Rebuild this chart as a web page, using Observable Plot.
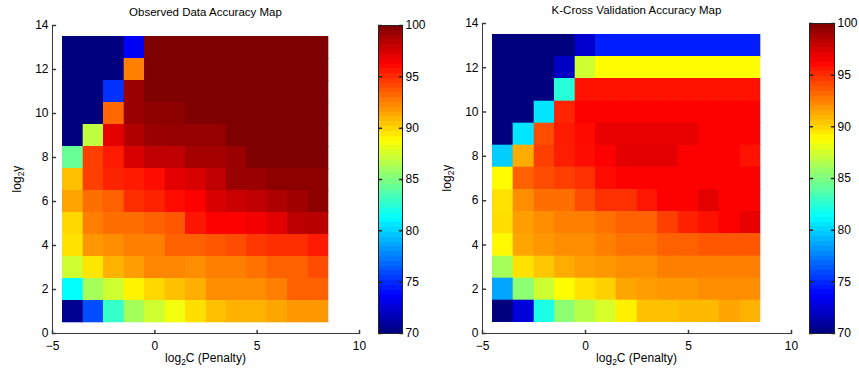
<!DOCTYPE html>
<html><head><meta charset="utf-8">
<script src="https://cdn.jsdelivr.net/npm/d3@7"></script>
<script src="https://cdn.jsdelivr.net/npm/@observablehq/plot@0.6"></script>
<style>
body{margin:0;background:#fff;font-family:"Liberation Sans",Arial,Helvetica,sans-serif;}
#wrap{position:relative;width:859px;height:374px;overflow:hidden;}
.panel{position:absolute;top:0;width:430px;height:374px;}
.title{position:absolute;font-size:11.5px;color:#000;white-space:nowrap;transform:translate(-50%,-50%);}
.panel svg{position:absolute;top:0;}
</style></head><body><div id="wrap"></div>
<script>
// log2 C (penalty) columns, log2 gamma rows (top to bottom)
const penaltyC = [-4,-3,-2,-1,0,1,2,3,4,5,6,7,8];
const gammaLog = [13,12,11,10,9,8,7,6,5,4,3,2,1];

// Observed data accuracy (%), rows follow gammaLog, columns follow penaltyC
const observed = [
  [70,70,70,73.5,100,100,100,100,100,100,100,100,100],
  [70,70,70,92.5,100,100,100,100,100,100,100,100,100],
  [70,70,75.2,99.2,100,100,100,100,100,100,100,100,100],
  [70,70,93.2,99.2,99.6,99.6,100,100,100,100,100,100,100],
  [70,86.9,97,98.5,99.2,99.3,99.3,99.3,100,100,100,100,100],
  [84.3,94.4,95.5,97.4,98.1,98.1,98.9,98.9,99.2,100,100,100,100],
  [90.6,94.4,95.2,95.5,95.9,97,97.4,98.1,99.2,99.2,99.6,99.6,99.6],
  [91.4,93,93.4,94.9,95.2,95.9,96.3,97.4,97.8,98.1,98.6,99,99.6],
  [89.9,92.5,93,93,93.4,93.7,95.6,96.3,96.3,96.6,97.1,98.2,98.3],
  [89.6,91.8,92.1,92.5,92.5,93.4,93.4,93.7,94,94.6,94.9,94.9,95.5],
  [87.3,89.5,91,91.6,92.3,92.3,92.1,92.5,92.5,92.9,93.4,93.4,94],
  [81.3,86.1,87.3,89.1,89.9,90.6,91.1,92.1,92.1,92.1,92.5,93.4,93.4],
  [70.5,76,82.8,86.1,87.3,88.4,89.7,90.6,91,91,91.4,91.8,91.8]
];

// K-cross validation accuracy (%)
const kcross = [
  [70,70,70,70,72.3,74.6,74.6,74.6,74.6,74.6,74.6,74.6,74.6],
  [70,70,70,72,87.3,88.8,88.8,88.8,88.8,88.8,88.8,88.8,88.8],
  [70,70,70,82.4,95.7,95.7,95.7,95.7,95.7,95.7,95.7,95.7,95.7],
  [70,70,80.5,95.2,96.3,96.3,96.3,96.3,96.3,96.3,96.3,96.3,96.3],
  [70,80.5,94,95.5,96,96.9,96.9,96.9,96.9,96.9,96.3,96.3,96.3],
  [79.8,91.2,94.4,95.4,95.9,96.3,97,97,97,96.3,96.3,96.3,95.7],
  [88.8,93.4,94,94.4,94.8,95.9,96.3,96.3,96.3,96.3,96.3,96.3,96.3],
  [89.6,92.1,93,93,94,94.8,94.8,95.6,96.3,96.3,97,96.3,96.3],
  [89.7,91.6,92.1,92.5,92.5,92.9,93.4,93.4,94.4,95.3,95.8,96.3,96.9],
  [88.9,91.4,91.8,92.1,92.1,92.5,92.9,92.9,93.4,93.4,93.7,93.7,93.7],
  [86.1,89.6,90.4,91.2,91.6,91.8,92.1,92.1,92.5,92.5,92.5,92.5,92.5],
  [78.6,85.4,87.3,88.8,89.6,90.1,91.4,91.6,91.8,91.8,92.1,92.1,92.1],
  [70,72.6,82,85.4,86.6,87.6,89.2,90.6,90.6,90.8,90.8,91.4,91]
];

const titles = ["Observed Data Accuracy Map", "K-Cross Validation Accuracy Map"];
const xTicks = [-5,0,5,10];
const yTicks = [0,2,4,6,8,10,12,14];
const cbTicks = [70,75,80,85,90,95,100];
const xLabel = ["log","2","C (Penalty)"];
const yLabel = ["log","2","\u03b3"];

// jet colormap
const jetDomain = [70,73.75,81.25,88.75,96.25,100];
const jetRange = ["#00007f","#0000ff","#00ffff","#ffff00","#ff0000","#7f0000"];
const colorScale = {type:"linear", domain: jetDomain, range: jetRange, interpolate:"rgb", clamp:true};

const FONT = '"Liberation Sans", Arial, Helvetica, sans-serif';
const FS = 12;
const AX = "#3a3a3a";
const tickShape = {draw(ctx, l){ ctx.moveTo(0,0); ctx.lineTo(0,-l); }};

const layouts = [
  {x0:0, left:52, right:359, top:25, bottom:333, cbLeft:378, cbRight:402, titleY:12},
  {x0:430, left:52, right:361, top:23, bottom:333, cbLeft:379, cbRight:404, titleY:10}
];

function addLabel(svg, parts, x, y, rotate){
  const t = d3.select(svg).append("text")
    .attr("transform", `translate(${x},${y})` + (rotate ? " rotate(-90)" : ""))
    .attr("text-anchor","middle").attr("font-size",FS).attr("font-family",FONT).attr("fill","#000");
  t.append("tspan").text(parts[0]);
  t.append("tspan").text(parts[1]).attr("font-size",8.5).attr("dy",3);
  t.append("tspan").text(parts[2]).attr("dy",-3);
}

function panel(values, title, L){
  const data = [];
  gammaLog.forEach((g,i) => penaltyC.forEach((c,j) => data.push({C:c, g, v: values[i][j]})));
  const W = L.right + 14, H = 374;
  const div = document.createElement("div");
  div.className = "panel"; div.style.left = L.x0 + "px";

  const heat = Plot.plot({
    width: W, height: H,
    marginLeft: L.left, marginRight: W - L.right, marginTop: L.top, marginBottom: H - L.bottom,
    x: {domain: [xTicks[0], xTicks[xTicks.length-1]]},
    y: {domain: [yTicks[0], yTicks[yTicks.length-1]]},
    color: colorScale,
    style: {fontFamily: FONT, fontSize: FS + "px", color: "#000", background: "transparent"},
    marks: [
      Plot.rect(data, {x1: d => d.C - 0.5, x2: d => d.C + 0.5, y1: d => d.g - 0.5, y2: d => d.g + 0.5,
        fill: "v", stroke: "v", strokeWidth: 0.3, shapeRendering: "crispEdges"}),
      Plot.ruleX([xTicks[0]], {stroke: AX}),
      Plot.ruleY([yTicks[0]], {stroke: AX}),
      Plot.axisX(xTicks, {tickSize: 0, tickPadding: 8, label: null, fontSize: FS}),
      Plot.axisY(yTicks, {tickSize: 0, tickPadding: 4, label: null, fontSize: FS}),
      Plot.vector(xTicks, {x: d => d, frameAnchor: "bottom", length: 3, anchor: "start", shape: tickShape, stroke: AX}),
      Plot.vector(yTicks, {y: d => d, frameAnchor: "left", rotate: 90, length: 3, anchor: "start", shape: tickShape, stroke: AX})
    ]
  });
  addLabel(heat, xLabel, (L.left + L.right)/2, 362, false);
  addLabel(heat, yLabel, 21, (L.top + L.bottom)/2, true);
  heat.style.left = "0px";
  div.appendChild(heat);

  const levels = d3.range(64).map(i => ({lo: 70 + i*30/64, hi: 70 + (i+1)*30/64}));
  const CW = 52, cbw = L.cbRight - L.cbLeft;
  const cb = Plot.plot({
    width: CW, height: H,
    marginLeft: 0, marginRight: CW - cbw, marginTop: L.top, marginBottom: H - L.bottom,
    x: {axis: null},
    y: {domain: [cbTicks[0], cbTicks[cbTicks.length-1]]},
    color: colorScale,
    style: {fontFamily: FONT, fontSize: FS + "px", color: "#000", background: "transparent"},
    marks: [
      Plot.rect(levels, {y1: "lo", y2: "hi", fill: d => (d.lo + d.hi)/2, shapeRendering: "crispEdges"}),
      Plot.frame({stroke: "#222"}),
      Plot.axisY(cbTicks, {anchor: "right", tickSize: 0, tickPadding: 3, label: null, fontSize: FS}),
      Plot.vector(cbTicks, {y: d => d, frameAnchor: "left", rotate: 90, length: 3, anchor: "start", shape: tickShape, stroke: "#222"}),
      Plot.vector(cbTicks, {y: d => d, frameAnchor: "right", rotate: -90, length: 3, anchor: "start", shape: tickShape, stroke: "#222"})
    ]
  });
  cb.style.left = L.cbLeft + "px";
  div.appendChild(cb);

  const t = document.createElement("div");
  t.className = "title"; t.textContent = title;
  t.style.left = ((L.left + L.right)/2) + "px"; t.style.top = L.titleY + "px";
  div.appendChild(t);
  document.getElementById("wrap").appendChild(div);
}

panel(observed, titles[0], layouts[0]);
panel(kcross, titles[1], layouts[1]);
</script></body></html>
